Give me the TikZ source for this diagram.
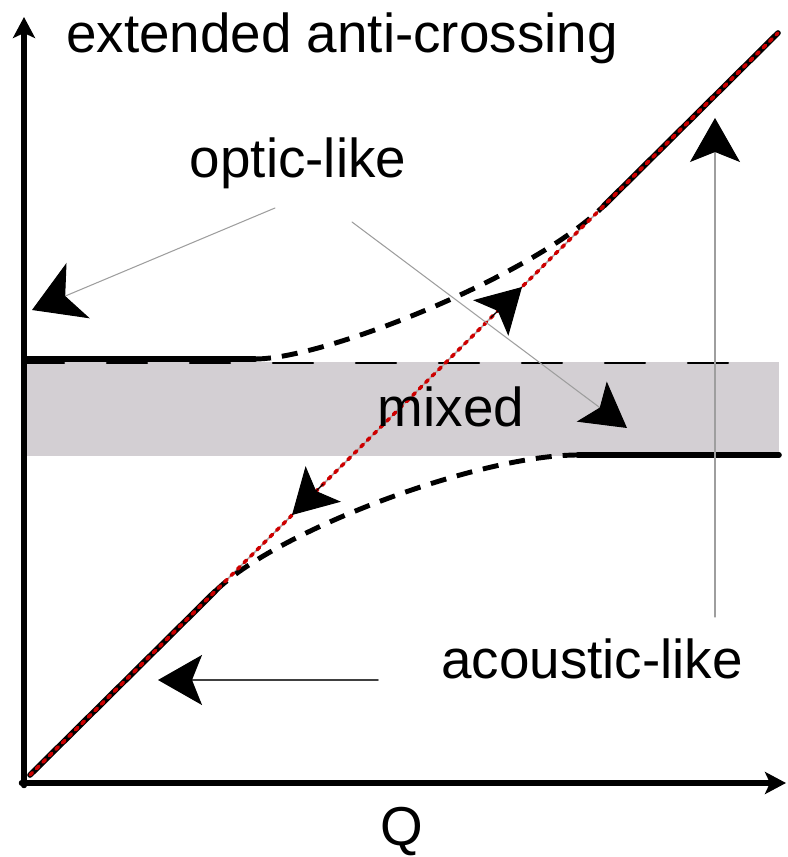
\documentclass[tikz,border=0pt]{standalone}
\usepackage{fontspec}
\setmainfont{Liberation Sans}
\usepackage{tkz-euclide}
\usetikzlibrary{arrows.meta,calc}
\definecolor{BandClr}{RGB}{211,207,211}
\definecolor{DotClr}{RGB}{205,0,0}
\definecolor{PointerClr}{gray}{0.62}

\begin{document}
\begin{tikzpicture}[
  axisline/.style={line width=1.5pt,-{Stealth[length=0.21cm,width=0.22cm,inset=0.05cm]}},
  branch/.style={line width=1.6pt},
  wavy/.style={line width=1.4pt,dash pattern=on 0.16cm off 0.11cm},
  reddots/.style={line width=1.0pt,color=DotClr,dash pattern=on 1.0pt off 1.6pt},
  pointer/.style={line width=0.3pt,color=PointerClr},
  bigtip/.style={-{Stealth[length=0.44cm,width=0.50cm,inset=0.10cm,color=black]}},
  hugetip/.style={-{Stealth[length=0.50cm,width=0.60cm,inset=0.14cm,color=black]}},
  txt/.style={font=\fontsize{15.6}{18}\selectfont,inner sep=0pt,anchor=base}]

\useasboundingbox (-0.24,-0.74) rectangle (7.63,7.83);

\tkzDefPoints{-0.026/0/Oa,0/-0.026/Ob,0/7.66/Y,7.62/0/X}
\tkzDefPoints{0.06/0.08/A,7.54/7.50/B,1.91/1.915/C,5.80/5.774/D}
% upper branch (optic side)
\tkzDefPoints{0/4.24/Ua,2.31/4.24/Ub,3.01/4.24/Uc,5.10/5.074/Ud}
% lower branch (acoustic side)
\tkzDefPoints{2.51/2.515/La,4.54/3.28/Lb,5.54/3.28/Lc,7.55/3.28/Ld}
% band
\tkzDefPoints{0.02/3.27/Ma,7.55/4.21/Mb,0/4.20/Mc,7.16/4.20/Md}
% pointers
\tkzDefPoints{3.54/1.03/P,1.34/1.03/Q,2.51/5.75/R,0.08/4.73/S,3.28/5.61/T,6.03/3.55/V}
\tkzDefPoints{6.91/1.66/W,6.91/6.65/Z,4.668/4.651/E,4.98/4.96/F,2.992/2.990/G,2.68/2.68/H}

\fill[BandClr] (Ma) rectangle (Mb);
\tkzDrawSegment[line width=0.6pt,color=black,dash pattern=on 0.40cm off 0.43cm](Mc,Md)

\tkzDrawSegment[line width=0.5pt,color=gray!60](A,B)
\tkzDrawSegment[branch](A,C)
\tkzDrawSegment[branch](D,B)
\tkzDrawSegment[branch](Ua,Ub)
\tkzDrawSegment[branch](Lc,Ld)
\draw[wavy] (Ub) .. controls (Uc) and (Ud) .. (D);
\draw[wavy] (C) .. controls (La) and (Lb) .. (Lc);
\tkzDrawSegment[reddots](A,B)

\tkzDrawSegment[pointer,hugetip](R,S)
\tkzDrawSegment[pointer,bigtip](T,V)
\tkzDrawSegment[pointer,bigtip](W,Z)
\tkzDrawSegment[line width=0.5pt,color=black!75,bigtip](P,Q)
\draw[line width=0.3pt,bigtip] (E) -- (F);
\draw[line width=0.3pt,bigtip] (G) -- (H);

\tkzDrawSegment[axisline](Ob,Y)
\tkzDrawSegment[axisline](Oa,X)

\node[txt] (title) at (3.18,7.30) {extended anti-crossing};
\node[txt] (optic) at (2.74,6.05) {optic-like};
\node[txt] (mixed) at (4.27,3.56) {mixed};
\node[txt] (acoustic) at (5.68,1.05) {acoustic-like};
\node[txt] (qlabel) at (3.78,-0.62) {Q};
\end{tikzpicture}
\end{document}
